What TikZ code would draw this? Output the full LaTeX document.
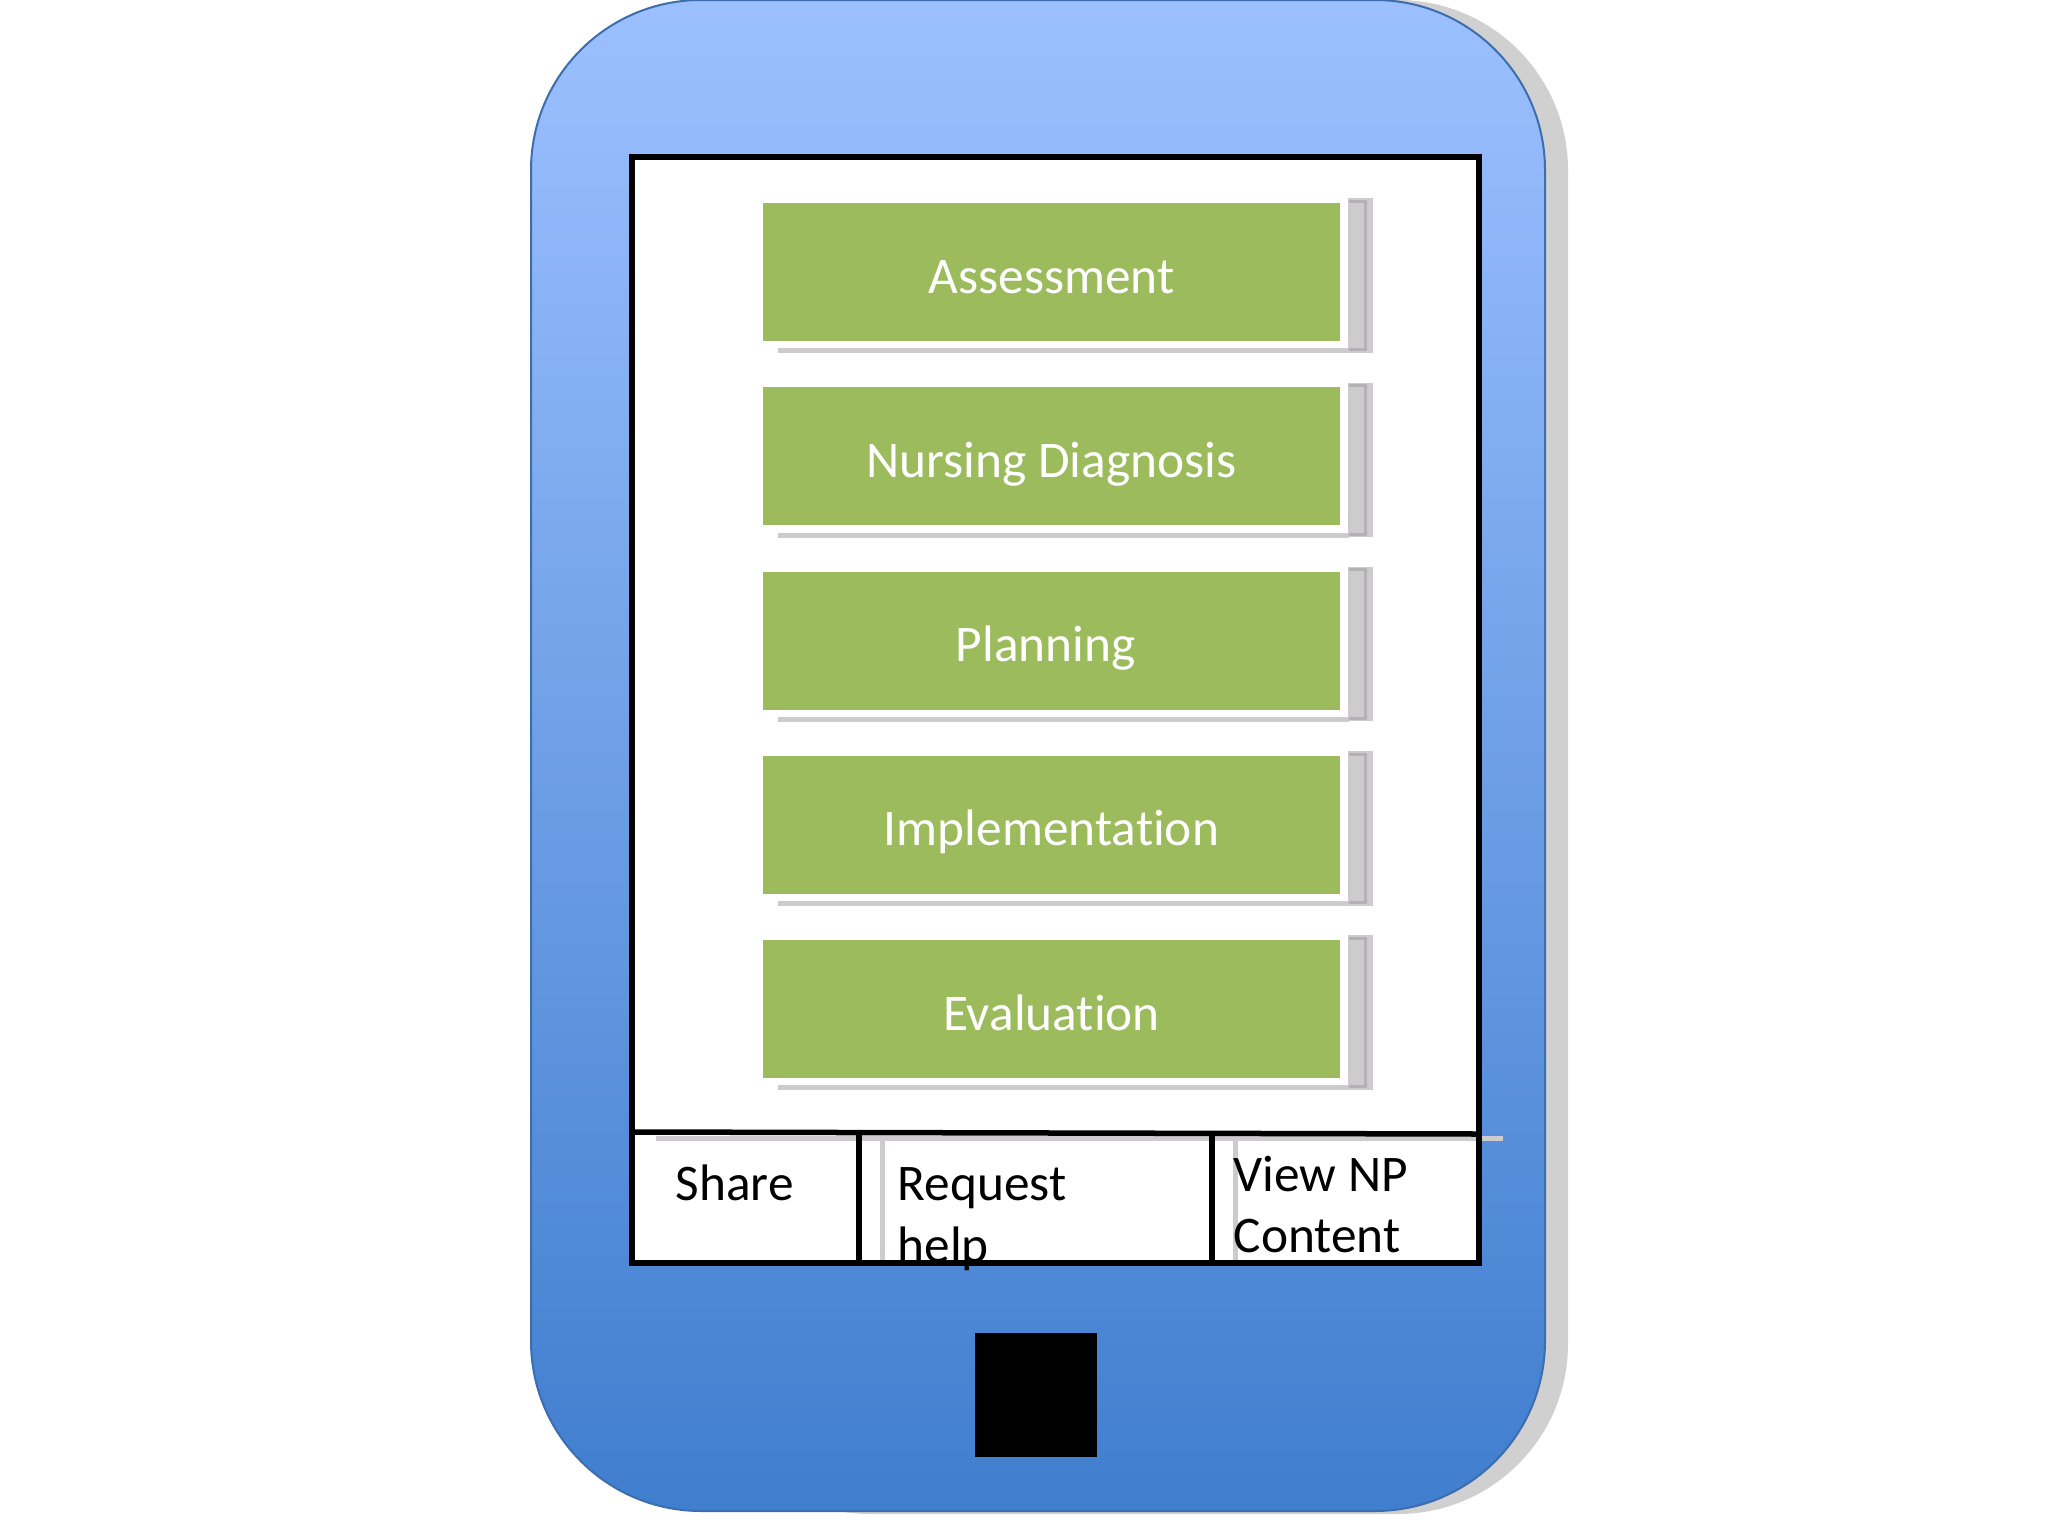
\documentclass[tikz,border=0pt]{standalone}
\usepackage{fontspec}
\setmainfont[Ligatures=NoCommon]{Carlito}
\usetikzlibrary{positioning}
\definecolor{phonetop}{RGB}{156,192,255}
\definecolor{phonemid}{RGB}{110,160,230}
\definecolor{phonebot}{RGB}{64,126,206}
\definecolor{phoneline}{RGB}{60,110,175}
\definecolor{phoneback}{RGB}{208,208,208}
\definecolor{stepgreen}{RGB}{155,187,92}
\definecolor{ghost}{RGB}{205,203,205}

\begin{document}
\begin{tikzpicture}[x=0.01cm,y=-0.01cm,
					node distance=1.842cm,
					phone/.style={draw=phoneline,line width=0.2mm,rounded corners=1.7cm,top color=phonetop,middle color=phonemid,bottom color=phonebot},
					step box/.style={rectangle,fill=stepgreen,minimum width=5.77cm,minimum height=1.38cm,inner sep=0pt,text height=0.6cm,text depth=0.18cm,text=white,font=\fontsize{14.6}{17}\selectfont},
					tab label/.style={anchor=base west,inner sep=0pt,font=\fontsize{14.6}{17}\selectfont},
					frame line/.style={line width=0.55mm,draw=black},
					ghost line/.style={line width=0.5mm,draw=ghost}]

  \useasboundingbox (0,0) rectangle (2048,1536);

  % phone body
  \fill[phoneback,rounded corners=1.7cm] (700,0) rectangle (1568,1514);
  \path[phone] (531,0) rectangle (1545,1511);

  % screen
  \fill[white] (632,157) rectangle (1479,1263);
  \node[step box] (assess) at (1051.5,272) {Assessment};
  \node[step box] (diag) [below of=assess] {Nursing Diagnosis};
  \node[step box] (plan) [below of=diag] {Planning\kern0.118cm};
  \node[step box] (impl) [below of=plan] {Implementation};
  \node[step box] (eval) [below of=impl] {Evaluation};

  % grey ghosts beside the boxes
  \foreach \stepname in {assess,diag,plan,impl,eval}{
    \draw[ghost,fill=ghost,line width=0.2mm] ([xshift=0.08cm,yshift=0.03cm]\stepname.north east) rectangle ([xshift=0.31cm,yshift=-0.10cm]\stepname.south east);
    \draw[black!30,line width=0.3mm] ([xshift=0.08cm,yshift=0.01cm]\stepname.north east) -- ([xshift=0.25cm,yshift=0.01cm]\stepname.north east) -- ([xshift=0.25cm,yshift=-0.08cm]\stepname.south east) -- ([xshift=0.08cm,yshift=-0.08cm]\stepname.south east);
    \draw[ghost line] ([xshift=0.16cm,yshift=-0.09cm]\stepname.south west) -- ([xshift=0.08cm,yshift=-0.09cm]\stepname.south east);
  }

  % tab bar
  \coordinate (sepl) at (632,1132);
  \coordinate (sepr) at (1479,1134);
  \coordinate (taba) at (859,1134);
  \coordinate (tabb) at (859,1263);
  \coordinate (tabc) at (1212,1134);
  \coordinate (tabd) at (1212,1263);
  \coordinate (ghosta) at (656,1138.5);
  \coordinate (ghostb) at (1503,1138.5);
  \draw[ghost line] (ghosta) -- (ghostb);
  \draw[ghost line] (882,1137) -- (882,1263);
  \draw[ghost line] (1235,1137) -- (1235,1263);
  \draw[frame line] (632,157) rectangle (1479,1263);
  \draw[frame line] (sepl) -- (sepr);
  \draw[frame line] (taba) -- (tabb);
  \draw[frame line] (tabc) -- (tabd);

  \node[tab label] (share) at (675,1200) {Share};
  \node[tab label] (request) at (897,1200) {Request};
  \node[tab label] (help) at (897,1262) {help};
  \node[tab label] (view) at (1233,1191) {View NP};
  \node[tab label] (content) at (1233,1252) {Content};

  % home button
  \fill[black] (975,1333) rectangle (1097,1457);
\end{tikzpicture}
\end{document}
